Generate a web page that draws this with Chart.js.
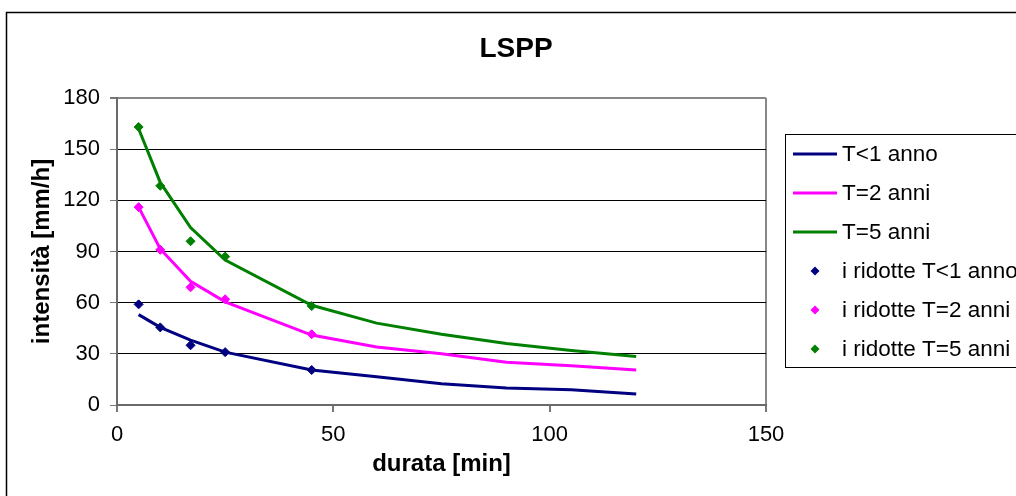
<!DOCTYPE html>
<html lang="it">
<head>
<meta charset="UTF-8">
<title>LSPP</title>
<script src="https://cdn.jsdelivr.net/npm/chart.js"></script>
<style>
  html, body { margin: 0; padding: 0; background: #fff; }
  canvas { display: block; }
</style>
</head>
<body>
<canvas id="lspp" width="1016" height="496"></canvas>
<script>
// durate (min) e intensità (mm/h) delle curve LSPP
const durate = [5, 10, 17, 25, 45, 60, 75, 90, 105, 120];
const curvaT1 = [53, 45.5, 38, 31, 20.5, 16.5, 12.5, 10, 9, 6.5];
const curvaT2 = [116, 91.5, 72.5, 60.5, 41, 34, 30, 25, 23, 20.5];
const curvaT5 = [162, 130.5, 104, 85, 58.5, 48, 41.5, 36, 32, 28.5];

// intensità ridotte misurate
const durateRid = [5, 10, 17, 25, 45];
const ridT1 = [59, 45.5, 35, 31, 20.5];
const ridT2 = [116, 91, 69, 62, 41.5];
const ridT5 = [163, 128.5, 96, 87, 58];

const xTicks = [0, 50, 100, 150];
const yTicks = [0, 30, 60, 90, 120, 150, 180];

const FONT = 'Arial, "Liberation Sans", sans-serif';
const pts = (xs, ys) => xs.map((x, i) => ({ x: x, y: ys[i] }));

function lineSet(label, color, data) {
    return {
        label: label, data: pts(durate, data), showLine: true,
        borderColor: color, backgroundColor: color, borderWidth: 3,
        pointRadius: 0, tension: 0, kind: 'line'
    };
}
function markSet(label, color, data) {
    return {
        label: label, data: pts(durateRid, data), showLine: false,
        borderColor: color, backgroundColor: color, pointStyle: 'rectRot',
        pointRadius: 4.5, borderWidth: 1, kind: 'mark'
    };
}

// cornice, titolo e legenda disegnati a mano
const decor = {
    id: 'decor',
    beforeDraw(chart) {
        const c = chart.ctx;
        c.save();
        c.fillStyle = '#fff';
        c.fillRect(0, 0, chart.width, chart.height);
        c.strokeStyle = '#000';
        c.lineWidth = 1.5;
        c.strokeRect(6.5, 12.5, chart.width + 20, chart.height + 20);
        c.restore();
    },
    afterDraw(chart) {
        const c = chart.ctx;
        c.save();
        c.fillStyle = '#000';
        c.font = 'bold 28px ' + FONT;
        c.textAlign = 'center';
        c.textBaseline = 'middle';
        c.fillText('LSPP', 516, 49);

        // legenda
        c.strokeStyle = '#000';
        c.lineWidth = 1;
        c.strokeRect(785.5, 134.5, 300, 233);
        c.font = '22.5px ' + FONT;
        c.textAlign = 'left';
        chart.data.datasets.forEach((ds, i) => {
            const y = 154 + i * 39;
            if (ds.kind === 'line') {
                c.strokeStyle = ds.borderColor;
                c.lineWidth = 3;
                c.beginPath();
                c.moveTo(793, y);
                c.lineTo(837, y);
                c.stroke();
            } else {
                c.fillStyle = ds.backgroundColor;
                c.beginPath();
                c.moveTo(815, y - 4.5);
                c.lineTo(819.5, y);
                c.lineTo(815, y + 4.5);
                c.lineTo(810.5, y);
                c.closePath();
                c.fill();
            }
            c.fillStyle = '#000';
            c.fillText(ds.label, 842, y + 1);
        });
        c.restore();
    }
};

new Chart(document.getElementById('lspp'), {
    type: 'scatter',
    data: {
        datasets: [
            lineSet('T<1 anno', '#000080', curvaT1),
            lineSet('T=2 anni', '#ff00ff', curvaT2),
            lineSet('T=5 anni', '#008000', curvaT5),
            markSet('i ridotte T<1 anno', '#000080', ridT1),
            markSet('i ridotte T=2 anni', '#ff00ff', ridT2),
            markSet('i ridotte T=5 anni', '#008000', ridT5)
        ]
    },
    options: {
        responsive: false,
        animation: false,
        devicePixelRatio: 1,
        layout: { padding: { top: 98, right: 250, bottom: 0, left: 0 } },
        plugins: { legend: { display: false }, title: { display: false }, tooltip: { enabled: false } },
        scales: {
            x: {
                type: 'linear', min: 0, max: 150,
                afterFit: s => { s.height = 91; },
                afterBuildTicks: s => { s.ticks = xTicks.map(v => ({ value: v })); },
                ticks: { color: '#000', font: { family: FONT, size: 22 }, padding: 10, maxRotation: 0 },
                grid: {
                    drawOnChartArea: true, tickLength: 7, tickColor: '#777',
                    color: ctx => ctx.tick && ctx.tick.value === 150 ? '#888' : 'transparent',
                    lineWidth: 2
                },
                border: { color: '#6a6a6a', width: 2 },
                title: {
                    display: true, text: 'durata [min]', color: '#000',
                    font: { family: FONT, size: 24, weight: 'bold' }, padding: { top: 0, bottom: 17 }
                }
            },
            y: {
                type: 'linear', min: 0, max: 180,
                afterFit: s => { s.width = 117; },
                afterBuildTicks: s => { s.ticks = yTicks.map(v => ({ value: v })); },
                ticks: { color: '#000', font: { family: FONT, size: 22 }, padding: 10 },
                grid: {
                    tickLength: 7, tickColor: '#777',
                    color: ctx => ctx.tick && ctx.tick.value === 180 ? '#888' : '#000',
                    lineWidth: ctx => ctx.tick && ctx.tick.value === 180 ? 2 : 1
                },
                border: { color: '#6a6a6a', width: 2 },
                title: {
                    display: true, text: 'intensità [mm/h]', color: '#000',
                    font: { family: FONT, size: 24, weight: 'bold' }, padding: { top: 28, bottom: 0 }
                }
            }
        }
    },
    plugins: [decor]
});
</script>
</body>
</html>
